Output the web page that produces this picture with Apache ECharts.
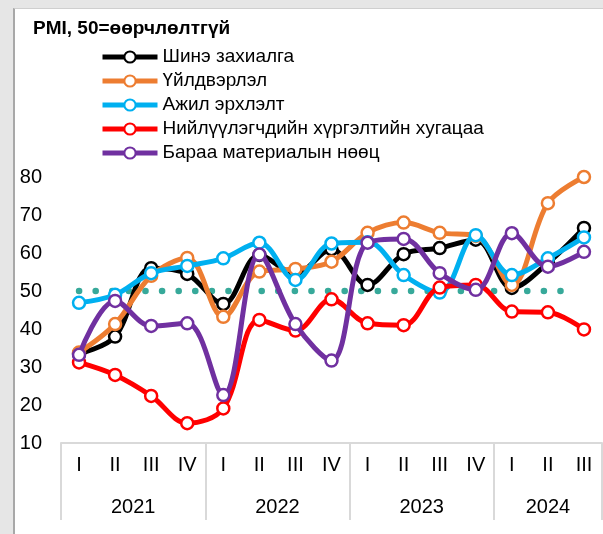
<!DOCTYPE html>
<html>
<head>
<meta charset="utf-8">
<script src="https://cdn.jsdelivr.net/npm/echarts@6/dist/echarts.min.js"></script>
<style>
  html, body { margin: 0; padding: 0; background: #e6e6e6; }
  #panel { position: absolute; left: 13px; top: 8px; width: 590px; height: 526px;
           background: #fff; border-left: 2px solid #a8a8a8; border-top: 1px solid #cfcfcf; box-sizing: border-box; }
  #chart { position: absolute; left: 0; top: 0; width: 603px; height: 534px; }
</style>
</head>
<body>
<div id="panel"></div>
<div id="chart"></div>
<script>
// quarters and years
const quarters = ['I', 'II', 'III', 'IV', 'I', 'II', 'III', 'IV', 'I', 'II', 'III', 'IV', 'I', 'II', 'III']
const years = ['2021', '2022', '2023', '2024']
const quartersPerYear = [4, 4, 4, 3]

// PMI components
const newOrders   = [33.5, 38, 56, 54.5, 46.6, 59.5, 54.5, 61, 51.6, 59.7, 61.3, 63.5, 50.8, 57.4, 66.6]
const production  = [33.8, 41.3, 54, 58.7, 43.2, 55.1, 55.8, 57.7, 65.3, 68, 65.3, 64.5, 51.6, 73.1, 80]
const employment  = [46.9, 49, 54.7, 56.6, 58.6, 62.7, 52.9, 62.5, 62.8, 54.2, 49.6, 64.7, 54.2, 58.6, 64.1]
const deliveries  = [31.2, 27.9, 22.4, 15.2, 19.1, 42.4, 39.6, 47.8, 41.5, 41, 50.9, 51.6, 44.6, 44.4, 39.9]
const inventories = [33.2, 47.4, 40.8, 41.5, 22.6, 59.6, 41.3, 31.7, 62.7, 63.7, 54.7, 50.3, 65.2, 56.4, 60.3]

// 50 = no change reference (dotted), start/end along the quarter scale
const refValue = 50
const refX = [0.5, 14]

const seriesNames = ['Шинэ захиалга', 'Үйлдвэрлэл', 'Ажил эрхлэлт', 'Нийлүүлэгчдийн хүргэлтийн хугацаа', 'Бараа материалын нөөц']
const seriesData = [newOrders, production, employment, deliveries, inventories]
const colors = ['#000000', '#ED7D31', '#00B0F0', '#FF0000', '#7030A0']

// year label positions / dividers on a 0..n value scale
const nQ = quarters.length
let acc = 0
const yearTicks = [0]
const yearCenters = []
quartersPerYear.forEach(n => {
  yearCenters.push(acc + n / 2)
  acc += n
  yearTicks.push(acc)
})

const font = 'Liberation Sans, Arial, sans-serif'
const chart = echarts.init(document.getElementById('chart'))

const lineSeries = seriesNames.map((name, i) => ({
  name: name,
  type: 'line',
  data: seriesData[i],
  smooth: 0.35,
  symbol: 'circle',
  symbolSize: 12,
  lineStyle: { color: colors[i], width: 5 },
  itemStyle: { color: '#fff', borderColor: colors[i], borderWidth: 2.5 },
  z: 2 + i
}))

chart.setOption({
  animation: false,
  textStyle: { fontFamily: font },
  title: {
    left: 33, top: 19, padding: 0,
    text: '{b|PMI}{n|, 50=өөрчлөлтгүй}',
    textStyle: {
      rich: {
        b: { fontFamily: font, fontSize: 19, fontWeight: 'bold', color: '#000' },
        n: { fontFamily: font, fontSize: 19, color: '#000' }
      }
    }
  },
  legend: {
    orient: 'vertical',
    left: 100, top: 47, padding: 0,
    itemWidth: 55, itemHeight: 14, itemGap: 4,
    data: seriesNames,
    lineStyle: { width: 5 },
    textStyle: { fontFamily: font, fontSize: 19, color: '#000', lineHeight: 20 }
  },
  grid: { left: 61, right: 1, top: 177, bottom: 91 },
  xAxis: [
    {
      type: 'category',
      data: quarters,
      position: 'bottom',
      axisLine: { lineStyle: { color: '#d9d9d9', width: 2 } },
      axisTick: { show: false },
      axisLabel: { fontSize: 20, color: '#000', margin: 12, fontFamily: font, interval: 0 }
    },
    {
      type: 'value',
      min: 0, max: nQ,
      position: 'bottom',
      axisLine: { show: false },
      splitLine: { show: false },
      axisTick: { show: true, customValues: yearTicks, length: 77, lineStyle: { color: '#d9d9d9', width: 2 } },
      axisLabel: {
        customValues: yearCenters,
        fontSize: 20, color: '#000', margin: 54, fontFamily: font,
        formatter: v => {
          const k = yearCenters.indexOf(v)
          return k >= 0 ? years[k] : ''
        }
      }
    }
  ],
  yAxis: {
    type: 'value',
    min: 10, max: 80, interval: 10,
    axisLine: { show: false },
    axisTick: { show: false },
    splitLine: { show: false },
    axisLabel: { fontSize: 20, color: '#000', margin: 19, fontFamily: font }
  },
  series: [
    {
      name: 'ref',
      type: 'line',
      xAxisIndex: 1,
      data: refX.map(x => [x, refValue]),
      symbol: 'none',
      silent: true,
      lineStyle: { color: '#37A99A', width: 6.5, type: [0.1, 16.5], cap: 'round' },
      z: 1
    }
  ].concat(lineSeries)
})
</script>
</body>
</html>
